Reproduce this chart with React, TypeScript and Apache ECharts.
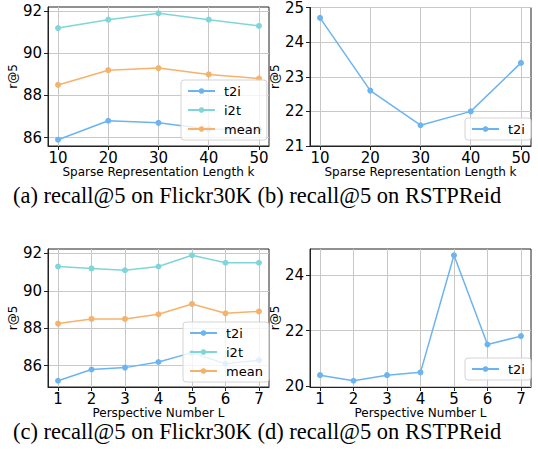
import React, { useEffect, useRef } from "react";
import * as echarts from "echarts";

// ---- data ----
const kValues = [10, 20, 30, 40, 50];
const flickrKT2i = [85.9, 86.8, 86.7, 86.4, 86.4];
const flickrKI2t = [91.2, 91.6, 91.9, 91.6, 91.3];
const flickrKMean = [88.5, 89.2, 89.3, 89.0, 88.8];
const rstpKT2i = [24.7, 22.6, 21.6, 22.0, 23.4];

const lValues = [1, 2, 3, 4, 5, 6, 7];
const flickrLT2i = [85.2, 85.8, 85.9, 86.2, 86.7, 86.1, 86.3];
const flickrLI2t = [91.3, 91.2, 91.1, 91.3, 91.9, 91.5, 91.5];
const flickrLMean = [88.25, 88.5, 88.5, 88.75, 89.3, 88.8, 88.9];
const rstpLT2i = [20.4, 20.2, 20.4, 20.5, 24.7, 21.5, 21.8];

const kTicks = [10, 20, 30, 40, 50];
const lTicks = [1, 2, 3, 4, 5, 6, 7];
const flickrKYTicks = [86, 88, 90, 92];
const rstpKYTicks = [21, 22, 23, 24, 25];
const flickrLYTicks = [86, 88, 90, 92];
const rstpLYTicks = [20, 22, 24];

const seriesNames = ["t2i", "i2t", "mean"];
const xNameK = "Sparse Representation Length k";
const xNameL = "Perspective Number L";
const yName = "r@5";
const captionTop = "(a) recall@5 on Flickr30K (b) recall@5 on RSTPReid";
const captionBottom = "(c) recall@5 on Flickr30K (d) recall@5 on RSTPReid";

const COLORS: Record<string, string> = {
  t2i: "#6cb4f0",
  i2t: "#7fd6d9",
  mean: "#f6b26b",
};
const FONT = "DejaVu Sans";

function zip(xs: number[], ys: number[]) {
  return xs.map((x, i) => [x, ys[i]]);
}

function xAxisFor(gridIndex: number, min: number, max: number, ticks: number[], name: string) {
  return {
    type: "value",
    gridIndex,
    min,
    max,
    name,
    nameLocation: "middle",
    nameGap: 20,
    nameTextStyle: { fontSize: 12, color: "#000", fontFamily: FONT },
    axisLine: { show: true, onZero: false, lineStyle: { color: "#222", width: 1 } },
    axisTick: { show: true, length: 4, customValues: ticks, lineStyle: { color: "#222" } },
    axisLabel: { customValues: ticks, fontSize: 15, color: "#000", margin: 4, fontFamily: FONT },
    splitLine: { show: true, lineStyle: { color: "#c8c8c8", width: 1 } },
  };
}

function yAxisFor(gridIndex: number, min: number, max: number, ticks: number[]) {
  return {
    type: "value",
    gridIndex,
    min,
    max,
    name: yName,
    nameLocation: "middle",
    nameGap: 20,
    nameTextStyle: { fontSize: 12, color: "#000", fontFamily: FONT },
    axisLine: { show: true, onZero: false, lineStyle: { color: "#222", width: 1 } },
    axisTick: { show: true, length: 4, customValues: ticks, lineStyle: { color: "#222" } },
    axisLabel: { customValues: ticks, fontSize: 15, color: "#000", margin: 6, fontFamily: FONT },
    splitLine: { show: true, lineStyle: { color: "#c8c8c8", width: 1 } },
  };
}

function lineSeries(name: string, idx: number, xs: number[], ys: number[]) {
  return {
    type: "line",
    name,
    xAxisIndex: idx,
    yAxisIndex: idx,
    data: zip(xs, ys),
    symbol: "circle",
    symbolSize: 6,
    lineStyle: { color: COLORS[name], width: 1.5 },
    itemStyle: { color: COLORS[name] },
    emphasis: { disabled: true },
  };
}

function legendFor(names: string[], left: number, top: number) {
  return {
    orient: "vertical",
    left,
    top,
    data: names,
    itemWidth: 27,
    itemHeight: 7,
    itemGap: 5,
    padding: [4, 6, 4, 6],
    backgroundColor: "rgba(255,255,255,0.8)",
    borderColor: "#d4d4d4",
    borderWidth: 1,
    borderRadius: 3,
    selectedMode: false,
    textStyle: { fontSize: 13, color: "#000", fontFamily: FONT, lineHeight: 14, padding: [0, 0, 0, 4] },
  };
}

export default function App() {
  const ref = useRef<HTMLDivElement>(null);
  useEffect(() => {
    if (!ref.current) return;
    const chart = echarts.init(ref.current, undefined, { renderer: "svg" });
    chart.setOption({
      animation: false,
      backgroundColor: "#fff",
      grid: [
        { left: 48, top: 7, width: 221, height: 139, show: true, borderColor: "#222", borderWidth: 1, backgroundColor: "transparent" },
        { left: 310, top: 7, width: 221, height: 139, show: true, borderColor: "#222", borderWidth: 1, backgroundColor: "transparent" },
        { left: 48, top: 249, width: 221, height: 138, show: true, borderColor: "#222", borderWidth: 1, backgroundColor: "transparent" },
        { left: 310, top: 249, width: 221, height: 138, show: true, borderColor: "#222", borderWidth: 1, backgroundColor: "transparent" },
      ],
      xAxis: [
        xAxisFor(0, 8, 52, kTicks, xNameK),
        xAxisFor(1, 8, 52, kTicks, xNameK),
        xAxisFor(2, 0.7, 7.3, lTicks, xNameL),
        xAxisFor(3, 0.7, 7.3, lTicks, xNameL),
      ],
      yAxis: [
        yAxisFor(0, 85.6, 92.2, flickrKYTicks),
        yAxisFor(1, 21, 25, rstpKYTicks),
        yAxisFor(2, 84.865, 92.235, flickrLYTicks),
        yAxisFor(3, 19.975, 24.925, rstpLYTicks),
      ],
      legend: [
        legendFor(seriesNames, 181, 80),
        legendFor(["t2i"], 465, 118),
        legendFor(seriesNames, 183, 322),
        legendFor(["t2i"], 465, 358),
      ],
      series: [
        lineSeries("t2i", 0, kValues, flickrKT2i),
        lineSeries("i2t", 0, kValues, flickrKI2t),
        lineSeries("mean", 0, kValues, flickrKMean),
        lineSeries("t2i", 1, kValues, rstpKT2i),
        lineSeries("t2i", 2, lValues, flickrLT2i),
        lineSeries("i2t", 2, lValues, flickrLI2t),
        lineSeries("mean", 2, lValues, flickrLMean),
        lineSeries("t2i", 3, lValues, rstpLT2i),
      ],
      graphic: [
        {
          type: "text",
          left: 13,
          top: 184,
          style: { text: captionTop, fontSize: 22.5, lineHeight: 22, fontFamily: "Liberation Serif", fill: "#000" },
        },
        {
          type: "text",
          left: 13,
          top: 420,
          style: { text: captionBottom, fontSize: 22.5, lineHeight: 22, fontFamily: "Liberation Serif", fill: "#000" },
        },
      ],
    });
    return () => chart.dispose();
  }, []);
  return (
    <div
      ref={ref}
      style={{ position: "absolute", left: 0, top: 0, width: 538, height: 455 }}
    />
  );
}
